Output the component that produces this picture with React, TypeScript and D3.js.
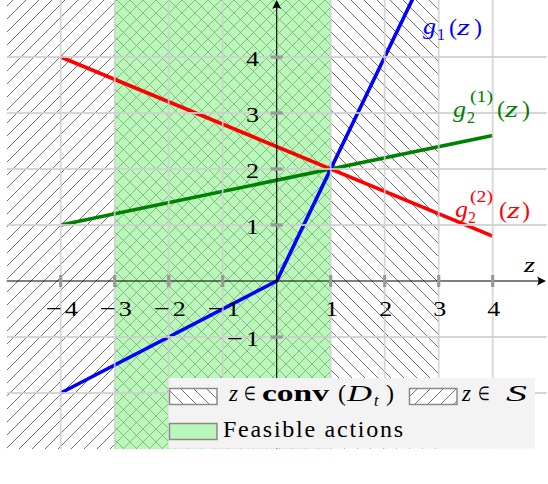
import React from 'react';
import * as d3 from 'd3';

const W = 548;
const H = 484;

// axis domains
const xDomain = [-5, 5];
const yDomain = [-3, 5];

// grid / ticks
const gridX = [-4, -3, -2, -1, 1, 2, 3, 4];
const gridY = [-2, -1, 1, 2, 3, 4];
const xTickValues = [-4, -3, -2, -1, 1, 2, 3, 4];
const yTickValues = [-2, -1, 1, 2, 3, 4];

// curves
const g1Z = [-4, 0, 4];
const g1V = [-2, 0, 8];
const g21Z = [-4, 4];
const g21V = [1, 2.6];
const g22Z = [-4, 4];
const g22V = [4, 0.8];

// regions
const regionS = [-5, 1];
const regionConv = [-3, 3];
const regionFeasible = [-3, 1];

const FONT = '"Liberation Serif", "Times New Roman", serif';
const HATCH = 13;

type Part = { t: string; x: number; y: number; size: number; italic?: boolean; bold?: boolean; len?: number };

function Parts({ parts, color }: { parts: Part[]; color: string }) {
  return (
    <g fill={color} style={{ fontFamily: FONT }}>
      {parts.map((p, i) => (
        <text
          key={i}
          x={p.x}
          y={p.y}
          fontSize={p.size}
          fontStyle={p.italic ? 'italic' : 'normal'}
          fontWeight={p.bold ? 'bold' : 'normal'}
          textLength={p.len}
          lengthAdjust={p.len ? 'spacingAndGlyphs' : undefined}
        >
          {p.t}
        </text>
      ))}
    </g>
  );
}

// number label: minus drawn as its own wide glyph (TeX-like)
function NumLabel({ v, xEnd, xMid, y, anchor }: { v: number; xEnd?: number; xMid?: number; y: number; anchor: 'middle' | 'end' }) {
  const digits = d3.format('d')(Math.abs(v));
  const dw = 13 * digits.length;
  const mw = 16;
  const gap = 3;
  const total = v < 0 ? mw + gap + dw : dw;
  const start = anchor === 'middle' ? (xMid as number) - total / 2 : (xEnd as number) - total;
  return (
    <g style={{ fontFamily: FONT }} fontSize={22}>
      {v < 0 && (
        <text x={start} y={y} textLength={mw} lengthAdjust="spacingAndGlyphs">
          −
        </text>
      )}
      <text x={v < 0 ? start + mw + gap : start} y={y} textLength={dw} lengthAdjust="spacingAndGlyphs">
        {digits}
      </text>
    </g>
  );
}

export default function App() {
  const x = d3.scaleLinear().domain(xDomain).range([6.7, 546.7]);
  const y = d3.scaleLinear().domain(yDomain).range([449, 1]);

  const path = (zs: number[], vs: number[]) =>
    d3
      .line<number>()
      .x((d) => x(d))
      .y((_, i) => y(vs[i]))(zs) as string;

  const top = y(yDomain[1]);
  const bottom = y(yDomain[0]);
  const left = x(xDomain[0]);
  const right = x(xDomain[1]);

  const s = HATCH;
  const nePath = `M-1,1 l2,-2 M0,${s} l${s},${-s} M${s - 1},${s + 1} l2,-2`;
  const nwPath = `M-1,${s - 1} l2,2 M0,0 l${s},${s} M${s - 1},-1 l2,2`;

  const x0 = x(0);
  const y0 = y(0);

  return (
    <svg
      width={W}
      height={H}
      style={{ position: 'absolute', left: 0, top: 0, background: '#fff', fontFamily: FONT }}
    >
      <defs>
        <pattern id="ne" patternUnits="userSpaceOnUse" width={s} height={s}>
          <path d={nePath} stroke="#404040" strokeWidth={0.75} fill="none" />
        </pattern>
        <pattern id="nw" patternUnits="userSpaceOnUse" width={s} height={s}>
          <path d={nwPath} stroke="#404040" strokeWidth={0.75} fill="none" />
        </pattern>
        <clipPath id="plot">
          <rect x={left} y={top - 1} width={right - left} height={bottom - top + 1} />
        </clipPath>
      </defs>

      <g clipPath="url(#plot)">
        {/* hatched regions */}
        <rect
          x={x(regionS[0])}
          y={top - 1}
          width={x(regionS[1]) - x(regionS[0])}
          height={bottom - top + 1}
          fill="url(#ne)"
        />
        <rect
          x={x(regionConv[0])}
          y={top - 1}
          width={x(regionConv[1]) - x(regionConv[0])}
          height={bottom - top + 1}
          fill="url(#nw)"
        />
        {/* feasible */}
        <rect
          x={x(regionFeasible[0])}
          y={top - 1}
          width={x(regionFeasible[1]) - x(regionFeasible[0])}
          height={bottom - top + 1}
          fill="rgb(142,242,142)"
          fillOpacity={0.6}
        />

        {/* curves */}
        <path d={path(g21Z, g21V)} stroke="#008000" strokeWidth={3.6} fill="none" strokeLinejoin="round" />
        <path d={path(g22Z, g22V)} stroke="#ff0000" strokeWidth={3.6} fill="none" strokeLinejoin="round" />
        <path d={path(g1Z, g1V)} stroke="#0000ff" strokeWidth={3.6} fill="none" strokeLinejoin="round" />

        {/* grid on top */}
        {gridX.map((v) => (
          <line key={'gx' + v} x1={x(v)} x2={x(v)} y1={top - 1} y2={bottom} stroke="#cfcfcf" strokeWidth={1.8} strokeOpacity={0.85} />
        ))}
        {gridY.map((v) => (
          <line key={'gy' + v} x1={left} x2={right} y1={y(v)} y2={y(v)} stroke="#cfcfcf" strokeWidth={1.8} strokeOpacity={0.85} />
        ))}
      </g>

      {/* axes */}
      <line x1={left} x2={541} y1={y0} y2={y0} stroke="#000" strokeWidth={1.1} />
      <path d={`M546,${y0} L537,${y0 - 4.5} Q540,${y0} 537,${y0 + 4.5} Z`} fill="#000" />
      <line x1={x0} x2={x0} y1={bottom} y2={5} stroke="#000" strokeWidth={1.1} />
      <path d={`M${x0},0 L${x0 - 4.5},9 Q${x0},6 ${x0 + 4.5},9 Z`} fill="#000" />

      {/* tick marks */}
      {xTickValues.map((v) => (
        <line key={'tx' + v} x1={x(v)} x2={x(v)} y1={y0 - 6} y2={y0 + 6} stroke="#999" strokeWidth={3.2} />
      ))}
      {yTickValues.map((v) => (
        <line key={'ty' + v} x1={x0 - 6} x2={x0 + 6} y1={y(v)} y2={y(v)} stroke="#999" strokeWidth={3.2} />
      ))}

      {/* tick labels */}
      {xTickValues.map((v) => (
        <NumLabel key={'lx' + v} v={v} xMid={x(v) + 1} y={316} anchor="middle" />
      ))}
      {yTickValues.map((v) => (
        <NumLabel key={'ly' + v} v={v} xEnd={259} y={y(v) + 8.5} anchor="end" />
      ))}

      {/* axis label */}
      <text x={524} y={272} fontSize={22} fontStyle="italic" textLength={11} lengthAdjust="spacingAndGlyphs">z</text>

      {/* curve labels */}
      <Parts
        color="#0000ff"
        parts={[
          { t: 'g', x: 423, y: 34, size: 24, italic: true, len: 13 },
          { t: '1', x: 437, y: 40, size: 16 },
          { t: '(', x: 449, y: 35, size: 24 },
          { t: 'z', x: 457, y: 35, size: 24, italic: true, len: 13 },
          { t: ')', x: 474, y: 35, size: 24 },
        ]}
      />
      <Parts
        color="#008000"
        parts={[
          { t: 'g', x: 453, y: 117, size: 24, italic: true, len: 13 },
          { t: '2', x: 467, y: 123, size: 16 },
          { t: '(1)', x: 470, y: 102, size: 16, len: 23 },
          { t: '(', x: 497, y: 117, size: 24 },
          { t: 'z', x: 505, y: 117, size: 24, italic: true, len: 13 },
          { t: ')', x: 522, y: 117, size: 24 },
        ]}
      />
      <Parts
        color="#ff0000"
        parts={[
          { t: 'g', x: 455, y: 217, size: 24, italic: true, len: 13 },
          { t: '2', x: 468, y: 223, size: 16 },
          { t: '(2)', x: 470, y: 202, size: 16, len: 23 },
          { t: '(', x: 499, y: 218, size: 24 },
          { t: 'z', x: 507, y: 218, size: 24, italic: true, len: 13 },
          { t: ')', x: 522, y: 218, size: 24 },
        ]}
      />

      {/* legend */}
      <g>
        <rect x={168.5} y={378} width={366.5} height={70.5} fill="#f3f3f3" />
        <rect x={169.5} y={388.5} width={47.5} height={16} fill="#fff" />
        <rect x={169.5} y={388.5} width={47.5} height={16} fill="url(#nw)" stroke="#8a8a8a" strokeWidth={1.5} />
        <rect x={409.5} y={388.5} width={47.5} height={16} fill="#fff" />
        <rect x={409.5} y={388.5} width={47.5} height={16} fill="url(#ne)" stroke="#8a8a8a" strokeWidth={1.5} />
        <rect x={169.5} y={423.5} width={47.5} height={16} fill="rgb(187,247,187)" stroke="#8a8a8a" strokeWidth={1.5} />
        <Parts
          color="#000"
          parts={[
            { t: 'z', x: 229, y: 401, size: 23, italic: true, len: 9 },
            { t: '∈', x: 244, y: 400, size: 19, len: 12 },
            { t: 'conv', x: 262, y: 401, size: 24, bold: true, len: 67 },
            { t: '(', x: 338, y: 401, size: 24 },
            { t: 'D', x: 347, y: 401, size: 24, italic: true, len: 25 },
            { t: 't', x: 374, y: 406, size: 16, italic: true },
            { t: ')', x: 386, y: 401, size: 24 },
            { t: 'z', x: 462, y: 401, size: 23, italic: true, len: 9 },
            { t: '∈', x: 478, y: 400, size: 19, len: 12 },
            { t: 'S', x: 506, y: 401, size: 24, italic: true, len: 21 },
          ]}
        />
        <text x={223} y={437} fontSize={24} textLength={180} lengthAdjust="spacing">
          Feasible actions
        </text>
      </g>
    </svg>
  );
}
